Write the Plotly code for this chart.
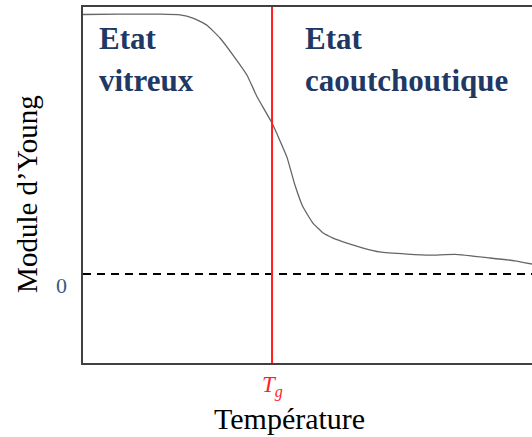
import plotly.graph_objects as go

# Curve: Young's modulus vs temperature (arbitrary units)
temperature = [0, 8.2, 17.1, 21.6, 24.5, 27.6, 30.5, 33.4, 36.5, 38.8, 42.1, 45.4, 47.2,
               49.0, 51.2, 53.5, 55.7, 58.8, 62.4, 66.1, 72.2, 77.3, 82.9, 90.6, 96.2, 100]
modulus = [72.9, 73.0, 73.0, 72.8, 71.9, 69.9, 66.3, 61.5, 55.9, 49.7, 42.4, 32.9, 25.0,
           18.8, 14.3, 11.5, 10.1, 8.7, 7.3, 6.2, 5.6, 5.3, 5.5, 4.5, 3.7, 2.8]
tg_value = 42.1
zero_level = 0
x_range = [0, 100]
y_range = [-25, 75]

SERIF = "Liberation Serif, Times New Roman, serif"
NAVY = "#1f3864"
RED = "#ff1f1f"

fig = go.Figure()
fig.add_trace(go.Scatter(x=temperature, y=modulus, mode="lines",
                         line=dict(color="#666666", width=1.3, shape="spline", smoothing=0.35),
                         hoverinfo="skip", showlegend=False))

fig.add_shape(type="line", xref="paper", x0=0, x1=1, yref="y", y0=zero_level, y1=zero_level,
              line=dict(color="black", width=2, dash="8px,6px"))
fig.add_shape(type="line", xref="x", x0=tg_value, x1=tg_value, yref="paper", y0=0, y1=1,
              line=dict(color=RED, width=2))

ann = [
    dict(text="Etat", x=0.032, y=0.965, xanchor="left", yanchor="top"),
    dict(text="vitreux", x=0.032, y=0.847, xanchor="left", yanchor="top"),
    dict(text="Etat", x=0.49, y=0.965, xanchor="left", yanchor="top"),
    dict(text="caoutchoutique", x=0.49, y=0.847, xanchor="left", yanchor="top"),
]
for a in ann:
    fig.add_annotation(xref="paper", yref="paper", showarrow=False,
                       font=dict(family=SERIF, size=31, color=NAVY),
                       **{**a, "text": "<b>" + a["text"] + "</b>"})

fig.add_annotation(xref="paper", yref="y", x=0, y=zero_level, text="0", showarrow=False,
                   xanchor="right", xshift=-14, yshift=-11,
                   font=dict(family=SERIF, size=22, color="#3b5a80"))
fig.add_annotation(xref="x", yref="paper", x=tg_value, y=0, text="<i>T<sub>g</sub></i>",
                   showarrow=False, yanchor="top", yshift=-7,
                   font=dict(family=SERIF, size=23, color=RED))
fig.add_annotation(xref="paper", yref="paper", x=0.46, y=0, text="Température",
                   showarrow=False, yanchor="bottom", yshift=-74,
                   font=dict(family=SERIF, size=30, color="black"))
fig.add_annotation(xref="paper", yref="paper", x=0, y=0.475, text="Module d’Young",
                   showarrow=False, textangle=-90, xanchor="right", xshift=-38,
                   font=dict(family=SERIF, size=29, color="black"))

fig.update_xaxes(range=x_range, showline=True, mirror=True, linecolor="#404040", linewidth=2,
                 showgrid=False, zeroline=False, showticklabels=False, ticks="")
fig.update_yaxes(range=y_range, showline=True, mirror=False, linecolor="#404040", linewidth=2,
                 showgrid=False, zeroline=False, showticklabels=False, ticks="")
fig.update_layout(width=532, height=437, margin=dict(l=83, r=0, t=7, b=74),
                  paper_bgcolor="white", plot_bgcolor="white")
# remove the default 8px page margin so the figure fills the window exactly
fig.write_html("out.html", config={"displayModeBar": False},
               post_script="document.body.style.margin='0';document.body.style.overflow='hidden';")
